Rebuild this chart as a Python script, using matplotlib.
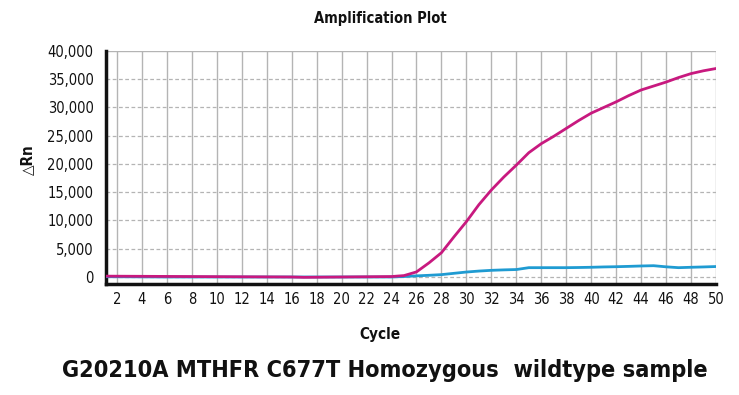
import matplotlib
matplotlib.use("Agg")
import matplotlib.pyplot as plt
import numpy as np

cycles = list(range(1, 51))
magenta = [150, 140, 130, 120, 110, 100, 90, 80, 70, 60,
           50, 40, 30, 20, 10, 0, -60, -40, -20, 0,
           20, 40, 60, 80, 250, 900, 2500, 4300, 7100, 9800,
           12800, 15400, 17700, 19800, 22000, 23600, 24900, 26300, 27700, 29000,
           30000, 31000, 32100, 33100, 33800, 34500, 35300, 36000, 36500, 36900]
blue = [50, 40, 30, 20, 10, 0, 0, 0, 0, 0,
        0, 0, 0, 0, 0, 0, 0, 0, 0, 0,
        0, 0, 0, 0, 80, 200, 300, 420, 650, 880,
        1050, 1180, 1260, 1320, 1650, 1650, 1650, 1650, 1680, 1720,
        1780, 1820, 1880, 1950, 2000, 1800, 1650, 1720, 1780, 1850]

xticks = list(range(2, 51, 2))
yticks = [0, 5000, 10000, 15000, 20000, 25000, 30000, 35000, 40000]
ytick_labels = ["0", "5,000", "10,000", "15,000", "20,000", "25,000", "30,000", "35,000", "40,000"]

plt.rcParams['font.family'] = ['DejaVu Sans']
plt.rcParams['font.stretch'] = 'condensed'

fig = plt.figure(figsize=(7.39, 3.95), dpi=100)
W, H = 739, 395
ax = fig.add_axes([106 / W, 1 - 284 / H, (716 - 106) / W, (284 - 51) / H])

for x in xticks:
    ax.axvline(x, color="#b4b4b4", lw=1.0, zorder=1)
for y in yticks:
    if y == 40000:
        ax.axhline(y, color="#b4b4b4", lw=1.0, zorder=1)
    else:
        ax.axhline(y, color="#b4b4b4", lw=0.9, ls=(0, (3, 2)), zorder=1)

ax.plot(cycles, blue, color="#1f9bd2", lw=2.0, zorder=3)
ax.plot(cycles, magenta, color="#c8197f", lw=2.0, zorder=4)

ax.set_xlim(1.12, 50)
ax.set_ylim(-1240, 40000)
ax.set_xticks(xticks)
ax.set_xticklabels([str(x) for x in xticks])
ax.set_yticks(yticks)
ax.set_yticklabels(ytick_labels)
ax.tick_params(axis="both", length=0, labelsize=10.5, colors="#111111")
ax.tick_params(axis="x", pad=6)
ax.tick_params(axis="y", pad=9)

for s in ["top", "right"]:
    ax.spines[s].set_visible(False)
ax.spines["left"].set_linewidth(2.5)
ax.spines["bottom"].set_linewidth(2.5)
ax.spines["left"].set_color("#111111")
ax.spines["bottom"].set_color("#111111")

fig.text(380 / W, 1 - 18 / H, "Amplification Plot", ha="center", va="center",
         fontsize=10.5, fontweight="bold", color="#111111")
fig.text(28 / W, 1 - 160 / H, "\u25b3Rn", ha="center", va="center", rotation=90,
         fontsize=11, fontweight="bold", color="#111111")
fig.text(380 / W, 1 - 335 / H, "Cycle", ha="center", va="center",
         fontsize=11, fontweight="bold", color="#111111")
fig.text(385 / W, 1 - 370 / H, "G20210A MTHFR C677T Homozygous  wildtype sample",
         ha="center", va="center", fontsize=16.8, fontweight="bold", color="#111111")

fig.savefig("out.png", dpi=100)
